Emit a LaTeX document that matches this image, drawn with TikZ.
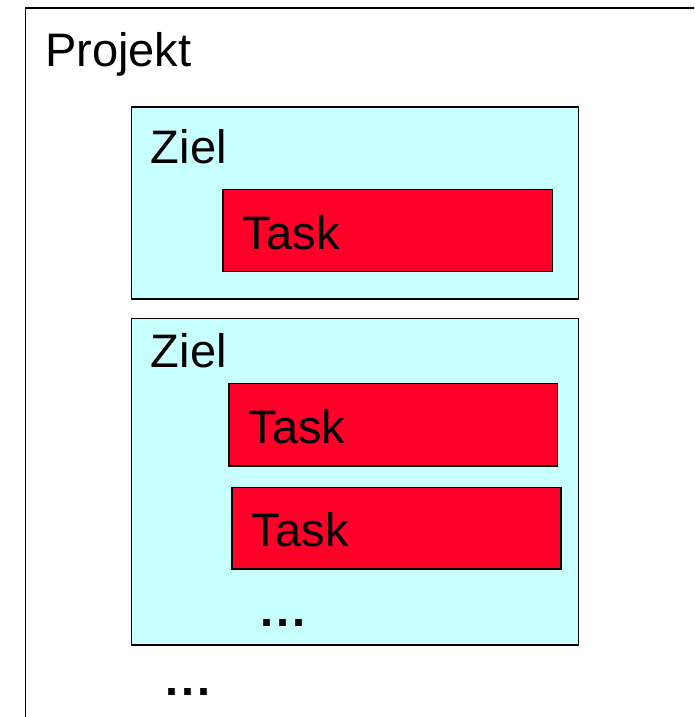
\documentclass[tikz,border=0pt]{standalone}
\usepackage{fontspec}
\setmainfont{Liberation Sans}
\definecolor{zielcyan}{HTML}{C8FFFF}
\definecolor{taskred}{HTML}{FF0028}
\tikzset{
  frame/.style={draw=black, line width=1.6pt, fill=white, anchor=north west, inner sep=0pt},
  zielbox/.style={draw=black, line width=1.6pt, fill=zielcyan, anchor=north west, inner sep=0pt},
  taskbox/.style={draw=black, line width=1.6pt, fill=taskred, anchor=north west, inner sep=0pt},
  lbl/.style={anchor=base west, inner sep=0pt, font=\fontsize{47}{56}\selectfont},
  dotlbl/.style={anchor=base west, inner sep=0pt, font=\fontsize{47}{56}\selectfont\bfseries}
}
\begin{document}
\begin{tikzpicture}[x=1pt, y=-1pt]
\useasboundingbox (0,0) rectangle (694,717);
\clip (0,0) rectangle (694,717);
\node[frame, minimum width=700pt, minimum height=740pt] (projekt) at (24.5,7.5) {};
\node[lbl] (lprojekt) at (45,66.7) {Projekt};
% Ziel 1
\node[zielbox, minimum width=447pt, minimum height=192pt] (z1) at (130.7,106) {};
\node[lbl] (lz1) at (150.7,163.3) {Ziel};
\node[taskbox, minimum width=329.7pt, minimum height=82pt] (t1) at (222,188.7) {};
\node[lbl] (lt1) at (242.7,249) {Task};
% Ziel 2
\node[zielbox, minimum width=447pt, minimum height=326.3pt] (z2) at (130.7,317.7) {};
\node[lbl] (lz2) at (150.7,367.7) {Ziel};
\node[taskbox, minimum width=328.4pt, minimum height=82.3pt] (t2) at (228.3,382.7) {};
\node[lbl] (lt2) at (248.3,443.3) {Task};
\node[taskbox, minimum width=329pt, minimum height=81.6pt] (t3) at (231,486.7) {};
\node[lbl] (lt3) at (251.7,546) {Task};
\node[dotlbl] (dots1) at (260,626.7) {.\kern3pt.\kern3pt.};
\node[dotlbl] (dots2) at (165,695) {.\kern3pt.\kern3pt.};
\end{tikzpicture}
\end{document}
